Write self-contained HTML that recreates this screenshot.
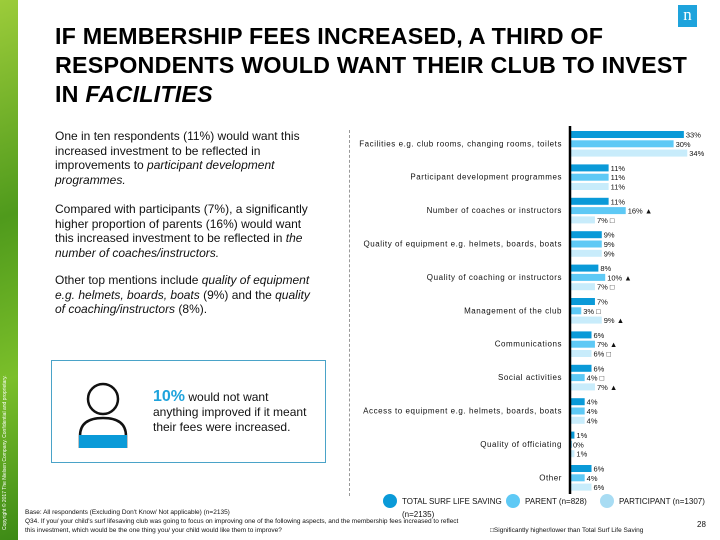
<!DOCTYPE html>
<html><head><meta charset="utf-8"><style>
body{margin:0;width:720px;height:540px;overflow:hidden;background:#fff;font-family:"Liberation Sans",sans-serif;position:relative}
.abs{position:absolute}
.title{left:55px;top:22px;font-size:23.3px;font-weight:bold;line-height:29px;color:#000;letter-spacing:0.2px;white-space:nowrap}
.body{left:55px;font-size:12px;line-height:14.5px;color:#111;width:262px}
</style></head><body>
<div class="abs" style="left:0;top:0;width:18px;height:540px;background:linear-gradient(160deg,#9ccc3a,#4f9a1c 40%,#7bbf2a 70%,#3d8a16)"></div>
<div class="abs" style="left:2px;top:530px;transform:rotate(-90deg);transform-origin:0 0;font-size:5px;color:#fff;white-space:nowrap">Copyright © 2017 The Nielsen Company. Confidential and proprietary.</div>
<div class="abs" style="left:678px;top:5px;width:19px;height:22px;background:#1ea3dc;color:#fff;font-family:'Liberation Serif',serif;font-size:17px;text-align:center;line-height:20px">n</div>
<div class="abs title">IF MEMBERSHIP FEES INCREASED, A THIRD OF<br>RESPONDENTS WOULD WANT THEIR CLUB TO INVEST<br>IN <i>FACILITIES</i></div>
<div class="abs body" style="top:129px">One in ten respondents (11%) would want this increased investment to be reflected in improvements to <i>participant development programmes.</i></div>
<div class="abs body" style="top:202px">Compared with participants (7%), a significantly higher proportion of parents (16%) would want this increased investment to be reflected in <i>the number of coaches/instructors.</i></div>
<div class="abs body" style="top:273px">Other top mentions include <i>quality of equipment e.g. helmets, boards, boats</i> (9%) and the <i>quality of coaching/instructors</i> (8%).</div>
<div class="abs" style="left:349px;top:130px;height:366px;border-left:1px dashed #999"></div>
<div class="abs" style="left:51px;top:360px;width:273px;height:101px;border:1px solid #4aa3c8"></div>
<svg class="abs" style="left:78px;top:382px" width="50" height="70"><circle cx="25" cy="17" r="15" fill="none" stroke="#111" stroke-width="2.5"/><path d="M2 66 V54 Q2 36 25 36 Q48 36 48 54 V66" fill="none" stroke="#111" stroke-width="2.5"/><rect x="1" y="53" width="48" height="13" fill="#0a9ad8"/></svg>
<div class="abs" style="left:153px;top:389px;width:160px;font-size:12px;line-height:15px;color:#111"><span style="color:#1ea3dc;font-weight:bold;font-size:16px">10%</span> would not want anything improved if it meant their fees were increased.</div>
<svg class="abs" id="chart" style="left:0;top:0" width="720" height="540"></svg>
<div class="abs" style="left:25px;top:508px;font-size:6.5px;line-height:9px;color:#111;width:440px">Base: All respondents (Excluding Don't Know/ Not applicable) (n=2135)<br>Q34. If you/ your child's surf lifesaving club was going to focus on improving one of the following aspects, and the membership fees increased to reflect this investment, which would be the one thing you/ your child would like them to improve?</div>
<div class="abs" style="left:490px;top:527px;font-size:6.5px;color:#111">□Significantly higher/lower than Total Surf Life Saving</div>
<div class="abs" style="left:697px;top:520px;font-size:8px;color:#111">28</div>
<script>
const categories=["Facilities e.g. club rooms, changing rooms, toilets","Participant development programmes","Number of coaches or instructors","Quality of equipment e.g. helmets, boards, boats","Quality of coaching or instructors","Management of the club","Communications","Social activities","Access to equipment e.g. helmets, boards, boats","Quality of officiating","Other"];
const totalVals=[33,11,11,9,8,7,6,6,4,1,6];
const parentVals=[30,11,16,9,10,3,7,4,4,0,4];
const participantVals=[34,11,7,9,7,9,6,7,4,1,6];
const parentSig=["","","up","","up","down","up","down","","",""];
const participantSig=["","","down","","down","up","down","up","","",""];
const seriesNames=["TOTAL SURF LIFE SAVING","PARENT (n=828)","PARTICIPANT (n=1307)"];
const colors=["#0a9ad8","#5ec9f5","#c8ecfb"];
const svg=document.getElementById('chart');const NS="http://www.w3.org/2000/svg";
const x0=571,k=3.42,top0=131,gap=33.4,pitch=9.3,bh=7;
const xs=v=>x0+v*k;const yb=(i,j)=>top0+i*gap+j*pitch;
function mk(t,a){const e=document.createElementNS(NS,t);for(const q in a)e.setAttribute(q,a[q]);svg.appendChild(e);return e;}
const series=[totalVals,parentVals,participantVals];const sigs=[null,parentSig,participantSig];
categories.forEach((c,i)=>{
 const t=mk('text',{x:562,y:yb(i,1)+6,'text-anchor':'end','font-size':'8','letter-spacing':'0.55',fill:'#111'});t.textContent=c;
 
 
 series.forEach((s,j)=>{
  const v=s[i];
  const r=mk('rect',{x:x0,y:yb(i,j),width:Math.max(v*k,0.8),height:bh,fill:colors[j]});
  
  
  let lab=v+'%';const sg=sigs[j]?sigs[j][i]:'';
  if(sg==='up')lab+=' ▲';if(sg==='down')lab+=' □';
  const tl=mk('text',{x:xs(v)+2,y:yb(i,j)+6.5,'font-size':'7.5',fill:'#111'});tl.textContent=lab;
  
  
 });
});
const ax=mk('line',{x1:x0-1,x2:x0-1,y1:126,y2:494,stroke:'#000','stroke-width':2.5});


const lx=[386,509,603];
const lcol=["#0a9ad8","#5ec9f5","#a8dcf3"];
seriesNames.forEach((n,j)=>{
 const c=mk('circle',{cx:lx[j]+4,cy:501,r:7,fill:lcol[j]});
 
 
 const t=mk('text',{x:lx[j]+16,y:504,'font-size':'8',fill:'#111'});t.textContent=n;
 
 
});
const nt=mk('text',{x:402,y:517,'font-size':'8',fill:'#111'});nt.textContent='(n=2135)';


</script>
</body></html>
